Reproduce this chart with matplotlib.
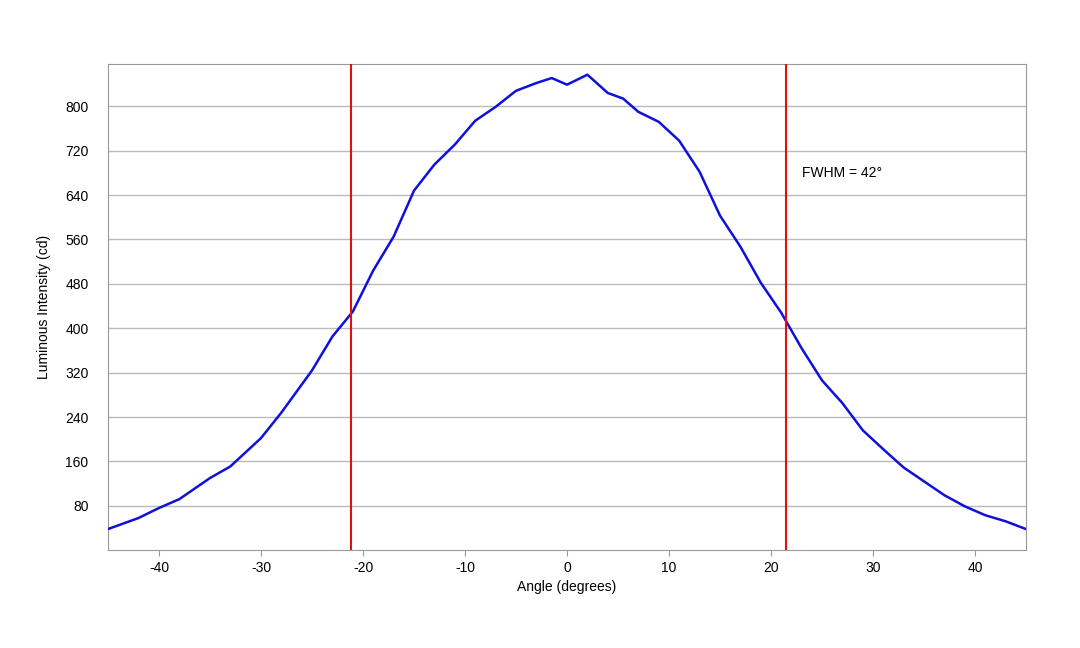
import matplotlib
matplotlib.use("Agg")
import matplotlib.pyplot as plt

plt.rcParams['font.family'] = ['Liberation Sans', 'DejaVu Sans']
plt.rcParams['axes.unicode_minus'] = False

# Curve
angle = [-45, -42, -40, -38, -35, -33, -30, -28, -25, -23, -21, -19, -17, -15,
         -13, -11, -9, -7, -5, -3, -1.5, 0, 2, 4, 5.5, 7, 9, 11, 13, 15, 17,
         19, 21, 23, 25, 27, 29, 31, 33, 35, 37, 39, 41, 43, 45]
intensity = [38, 58, 76, 92, 130, 151, 202, 248, 324, 385, 430, 504, 565, 648,
             695, 731, 774, 799, 828, 842, 851, 839, 857, 824, 814, 790, 772,
             738, 682, 603, 547, 482, 428, 364, 306, 265, 216, 182, 149, 124,
             99, 79, 63, 52, 38]
fwhm_left, fwhm_right = -21.2, 21.5
yticks = [80, 160, 240, 320, 400, 480, 560, 640, 720, 800]
xticks = [-40, -30, -20, -10, 0, 10, 20, 30, 40]

fig = plt.figure(figsize=(10.8, 6.48), dpi=100)
ax = fig.add_axes([0.1, 0.151, 0.85, 0.75])

ax.plot(angle, intensity, color='#1010dd', linewidth=1.8, zorder=3)
ax.axvline(fwhm_left, color='#dd1111', linewidth=1.5, zorder=4)
ax.axvline(fwhm_right, color='#dd1111', linewidth=1.5, zorder=4)
ax.text(23, 679, "FWHM = 42°", fontsize=10, va='center')

ax.set_xlim(-45, 45)
ax.set_ylim(0, 876)
ax.set_xticks(xticks)
ax.set_yticks(yticks)
ax.yaxis.grid(True, color='#bbbbbb', linewidth=1)
ax.set_axisbelow(True)
for s in ax.spines.values():
    s.set_color('#999999')
ax.tick_params(labelsize=10, length=4, color='#999999')
ax.tick_params(axis='y', length=0, pad=14)
ax.set_xlabel("Angle (degrees)", fontsize=10)
ax.set_ylabel("Luminous Intensity (cd)", fontsize=10, labelpad=10)

fig.savefig("out.png", dpi=100)
